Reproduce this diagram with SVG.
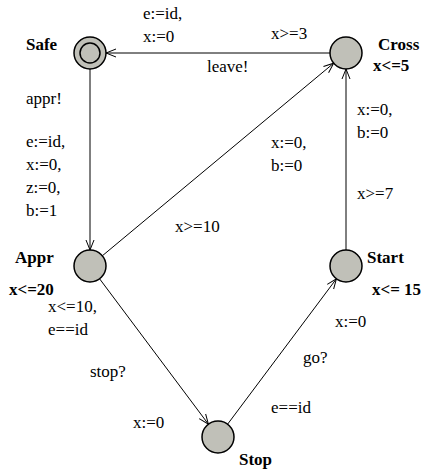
<svg xmlns="http://www.w3.org/2000/svg" width="427" height="472" viewBox="0 0 427 472">
<style>
.loc{fill:#c0c0b8;stroke:#000;stroke-width:1.5}
.edge{fill:none;stroke:#000;stroke-width:1}
text{font-family:"Liberation Serif","Times New Roman",serif;font-size:17px;fill:#000}
.b{font-weight:bold}
</style>
<defs>
<marker id="arr" markerUnits="userSpaceOnUse" markerWidth="14" markerHeight="12" refX="10" refY="5" orient="auto" viewBox="0 0 14 12">
<path d="M0,1 L10,5 L0,9" fill="none" stroke="#000" stroke-width="1"/>
</marker>
</defs>
<rect width="427" height="472" fill="#fff"/>
<g id="connectors" font-family="Liberation Serif, serif">
<line class="edge" x1="330" y1="53" x2="106" y2="53" marker-end="url(#arr)"/>
<line class="edge" x1="90" y1="69" x2="90" y2="250" marker-end="url(#arr)"/>
<line class="edge" x1="102.3" y1="255.8" x2="333.7" y2="63.2" marker-end="url(#arr)"/>
<line class="edge" x1="99.6" y1="278.8" x2="208.4" y2="424.2" marker-end="url(#arr)"/>
<line class="edge" x1="227.6" y1="424.2" x2="336.4" y2="278.8" marker-end="url(#arr)"/>
<line class="edge" x1="346" y1="250" x2="346" y2="69" marker-end="url(#arr)"/>
<text x="143" y="19">e:=id,</text>
<text x="143" y="42">x:=0</text>
<text x="271" y="39">x&gt;=3</text>
<text x="207" y="72">leave!</text>
<text x="26" y="104">appr!</text>
<text x="26" y="147">e:=id,</text>
<text x="26" y="170">x:=0,</text>
<text x="26" y="193">z:=0,</text>
<text x="26" y="216">b:=1</text>
<text x="271" y="148">x:=0,</text>
<text x="271" y="171">b:=0</text>
<text x="175" y="232">x&gt;=10</text>
<text x="357" y="115">x:=0,</text>
<text x="357" y="138">b:=0</text>
<text x="357" y="199">x&gt;=7</text>
<text x="48" y="312">x&lt;=10,</text>
<text x="48" y="335">e==id</text>
<text x="90" y="377">stop?</text>
<text x="133" y="428">x:=0</text>
<text x="335" y="327">x:=0</text>
<text x="303" y="363">go?</text>
<text x="271" y="413">e==id</text>
</g>
<g id="Safe">
<circle class="loc" cx="90" cy="53" r="16"/>
<circle class="loc" cx="90" cy="53" r="10"/>
<text class="b" x="26" y="50">Safe</text>
</g>
<g id="Cross">
<circle class="loc" cx="346" cy="53" r="16"/>
<text class="b" x="378" y="50">Cross</text>
<text class="b" x="373" y="71">x&lt;=5</text>
</g>
<g id="Appr">
<circle class="loc" cx="90" cy="266" r="16"/>
<text class="b" x="15" y="263">Appr</text>
<text class="b" x="9" y="295">x&lt;=20</text>
</g>
<g id="Start">
<circle class="loc" cx="346" cy="266" r="16"/>
<text class="b" x="367" y="263">Start</text>
<text class="b" x="372" y="295">x&lt;= 15</text>
</g>
<g id="Stop">
<circle class="loc" cx="218" cy="437" r="16"/>
<text class="b" x="239" y="465">Stop</text>
</g>
</svg>
